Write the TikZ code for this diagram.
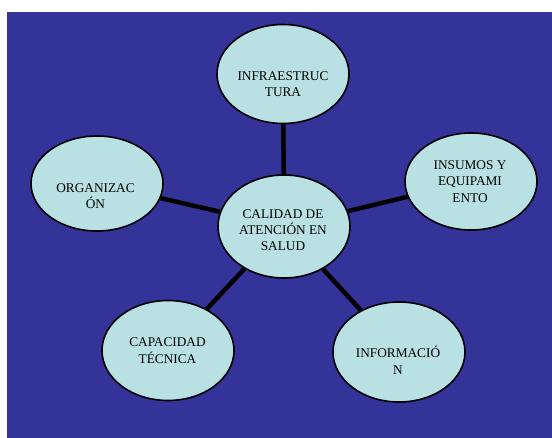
\documentclass[tikz,border=0pt]{standalone}
\usepackage{fontspec}
\setmainfont{Liberation Serif}
\usetikzlibrary{shapes.geometric}
\definecolor{bgblue}{RGB}{51,51,153}
\definecolor{bubble}{RGB}{185,224,227}
\begin{document}
\begin{tikzpicture}[x=1pt,y=-1pt,
  bubble/.style={ellipse,draw=black,line width=1.6pt,fill=bubble,inner sep=0pt,
    minimum width=132pt,minimum height=99pt},
  lbl/.style={align=center,anchor=base,inner sep=0pt,text=black,
    font=\fontsize{13.3}{16.3}\selectfont},
  spoke/.style={line width=4.5pt,black}]
\useasboundingbox (0,0) rectangle (552,438);
\fill[white] (0,0) rectangle (552,438);
\fill[bgblue] (7,12) rectangle (552,438);
\node[bubble] (infra) at (283,74) {};
\node[bubble,minimum height=103pt] (cal) at (284,226.5) {};
\node[bubble,minimum height=97pt] (ins) at (471,181.5) {};
\node[bubble,minimum height=95pt] (org) at (97,183.5) {};
\node[bubble,minimum height=100pt] (cap) at (168,350.5) {};
\node[bubble,minimum height=100pt] (inf) at (399,352) {};
\draw[spoke] (cal) -- (infra);
\draw[spoke] (cal) -- (ins);
\draw[spoke] (cal) -- (org);
\draw[spoke] (cal) -- (cap);
\draw[spoke] (cal) -- (inf);
\node[lbl] (tinfra) at (283,97) {INFRAESTRUC\\TURA};
\node[lbl] (tcal) at (283,250.7) {CALIDAD DE\\ATENCIÓN EN\\SALUD};
\node[lbl] (tins) at (470,202.3) {INSUMOS Y\\EQUIPAMI\\ENTO};
\node[lbl] (torg) at (95.5,209) {ORGANIZAC\\ÓN};
\node[lbl] (tcap) at (167.5,363.3) {CAPACIDAD\\TÉCNICA};
\node[lbl] (tinf) at (398,374.3) {INFORMACIÓ\\N};
\end{tikzpicture}
\end{document}
